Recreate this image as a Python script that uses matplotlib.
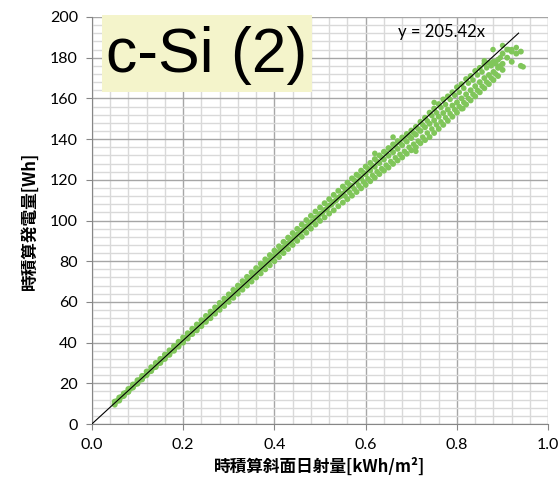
import matplotlib
matplotlib.use("Agg")
import matplotlib.pyplot as plt
from matplotlib.patches import Rectangle
from matplotlib.ticker import MultipleLocator, FormatStrFormatter

# hourly tilted-plane irradiation [kWh/m2] and hourly generated energy [Wh]
irr = [
    0.05, 0.05, 0.05, 0.06, 0.06, 0.06, 0.07, 0.07, 0.07, 0.08, 0.08, 0.08,
    0.09, 0.09, 0.09, 0.10, 0.10, 0.10, 0.11, 0.11, 0.11, 0.12, 0.12, 0.12,
    0.13, 0.13, 0.13, 0.14, 0.14, 0.14, 0.15, 0.15, 0.15, 0.16, 0.16, 0.16,
    0.17, 0.17, 0.17, 0.18, 0.18, 0.18, 0.19, 0.19, 0.19, 0.20, 0.20, 0.20,
    0.21, 0.21, 0.21, 0.22, 0.22, 0.22, 0.23, 0.23, 0.23, 0.24, 0.24, 0.24,
    0.25, 0.25, 0.25, 0.26, 0.26, 0.26, 0.27, 0.27, 0.27, 0.28, 0.28, 0.28,
    0.29, 0.29, 0.29, 0.30, 0.30, 0.30, 0.31, 0.31, 0.31, 0.32, 0.32, 0.32,
    0.33, 0.33, 0.33, 0.34, 0.34, 0.34, 0.35, 0.35, 0.35, 0.36, 0.36, 0.36,
    0.37, 0.37, 0.37, 0.38, 0.38, 0.38, 0.39, 0.39, 0.39, 0.40, 0.40, 0.40,
    0.41, 0.41, 0.41, 0.42, 0.42, 0.42, 0.43, 0.43, 0.43, 0.44, 0.44, 0.44,
    0.45, 0.45, 0.45, 0.46, 0.46, 0.46, 0.47, 0.47, 0.47, 0.48, 0.48, 0.48,
    0.49, 0.49, 0.49, 0.50, 0.50, 0.50, 0.51, 0.51, 0.51, 0.52, 0.52, 0.52,
    0.53, 0.53, 0.53, 0.54, 0.54, 0.54, 0.55, 0.55, 0.55, 0.56, 0.56, 0.56,
    0.57, 0.57, 0.57, 0.58, 0.58, 0.58, 0.59, 0.59, 0.59, 0.60, 0.60, 0.60,
    0.61, 0.61, 0.61, 0.62, 0.62, 0.62, 0.63, 0.63, 0.63, 0.64, 0.64, 0.64,
    0.65, 0.65, 0.65, 0.66, 0.66, 0.66, 0.67, 0.67, 0.67, 0.68, 0.68, 0.68,
    0.69, 0.69, 0.69, 0.70, 0.70, 0.70, 0.71, 0.71, 0.71, 0.72, 0.72, 0.72,
    0.73, 0.73, 0.73, 0.74, 0.74, 0.74, 0.75, 0.75, 0.75, 0.76, 0.76, 0.76,
    0.77, 0.77, 0.77, 0.78, 0.78, 0.78, 0.79, 0.79, 0.79, 0.80, 0.80, 0.80,
    0.81, 0.81, 0.81, 0.82, 0.82, 0.82, 0.83, 0.83, 0.83, 0.84, 0.84, 0.84,
    0.85, 0.85, 0.85, 0.86, 0.86, 0.86, 0.87, 0.87, 0.87, 0.88, 0.88, 0.88,
    0.89, 0.89, 0.89, 0.90, 0.90, 0.90, 0.91, 0.91, 0.92, 0.92, 0.93, 0.94,
    0.94,
]
gen = [
    10.0, 11.0, 9.5, 12.0, 13.0, 11.5, 14.0, 15.0, 13.8, 16.0, 17.2, 15.8,
    18.3, 19.4, 17.9, 20.2, 21.5, 19.8, 22.4, 23.6, 21.9, 24.5, 25.8, 24.0,
    26.4, 27.9, 26.0, 28.6, 30.0, 28.0, 30.5, 32.0, 30.0, 32.6, 34.1, 32.0,
    34.6, 36.2, 34.0, 36.8, 38.3, 36.0, 38.7, 40.4, 38.0, 40.9, 42.5, 40.0,
    43.0, 44.6, 42.0, 45.0, 46.8, 44.2, 47.1, 48.9, 46.0, 49.2, 51.0, 48.1,
    51.3, 53.1, 50.2, 53.4, 55.2, 52.0, 55.4, 57.3, 54.2, 57.5, 59.5, 56.1,
    59.6, 61.6, 58.0, 61.7, 63.7, 60.0, 63.8, 65.9, 62.0, 65.9, 68.0, 64.0,
    68.0, 70.2, 66.0, 70.0, 72.3, 68.0, 72.1, 74.5, 70.0, 74.2, 76.6, 72.0,
    76.3, 78.8, 74.0, 78.4, 80.9, 76.0, 80.5, 83.0, 78.0, 82.6, 85.2, 80.0,
    84.6, 87.3, 82.0, 86.7, 89.5, 84.0, 88.8, 91.6, 86.0, 90.9, 93.8, 88.0,
    93.0, 95.9, 90.0, 95.0, 98.0, 92.0, 97.1, 100.2, 94.0, 99.2, 102.3, 96.0,
    101.3, 104.4, 98.0, 103.2, 106.4, 99.8, 105.2, 108.5, 101.5, 107.3, 110.5, 103.4,
    109.2, 112.6, 105.0, 111.2, 114.6, 107.0, 113.2, 116.7, 108.8, 115.1, 118.6, 110.5,
    117.0, 120.7, 112.2, 119.0, 122.5, 114.0, 120.8, 124.5, 115.8, 122.7, 126.5, 117.5,
    124.6, 128.3, 119.3, 126.4, 130.2, 121.0, 128.2, 132.0, 122.8, 130.0, 133.8, 124.5,
    131.8, 135.6, 126.0, 133.5, 137.4, 127.8, 135.2, 139.0, 129.5, 137.0, 140.8, 131.0,
    138.8, 142.5, 132.8, 140.5, 144.2, 134.5, 142.2, 146.0, 136.0, 144.0, 148.5, 138.0,
    145.8, 150.5, 139.5, 147.5, 153.0, 141.0, 149.2, 155.0, 143.0, 151.0, 157.2, 145.0,
    152.8, 159.5, 147.0, 154.5, 161.0, 149.0, 156.5, 163.0, 151.0, 158.0, 165.5, 153.0,
    160.0, 167.0, 155.0, 162.0, 169.5, 157.0, 164.0, 171.0, 159.0, 166.0, 173.5, 161.0,
    168.0, 175.0, 163.0, 170.0, 177.0, 165.0, 171.5, 177.5, 167.0, 173.0, 178.0, 169.0,
    175.0, 179.0, 171.0, 177.0, 182.0, 174.0, 180.0, 184.0, 183.0, 178.0, 182.0, 176.0,
    183.0,
]

# extra points between the 0.01 steps
irr_mid = [
    0.055, 0.065, 0.075, 0.085, 0.095, 0.105, 0.115, 0.125, 0.135, 0.145,
    0.155, 0.165, 0.175, 0.185, 0.195, 0.205, 0.215, 0.225, 0.235, 0.245,
    0.255, 0.265, 0.275, 0.285, 0.295, 0.305, 0.315, 0.325, 0.335, 0.345,
    0.355, 0.365, 0.375, 0.385, 0.395, 0.405, 0.415, 0.425, 0.435, 0.445,
    0.455, 0.465, 0.475, 0.485, 0.495, 0.505, 0.515, 0.525, 0.535, 0.545,
]
gen_mid = [
    11.3, 13.4, 15.4, 17.5, 19.5, 21.6, 23.6, 25.7, 27.7, 29.8,
    31.8, 33.9, 36.0, 38.0, 40.1, 42.1, 44.2, 46.2, 48.3, 50.3,
    52.4, 54.4, 56.5, 58.5, 60.6, 62.7, 64.7, 66.8, 68.8, 70.9,
    72.9, 75.0, 77.0, 79.1, 81.1, 83.2, 85.2, 87.3, 89.4, 91.4,
    93.5, 95.5, 97.6, 99.6, 101.7, 103.7, 105.8, 107.8, 109.9, 111.9,
]

irr_hi = [
    0.555, 0.555, 0.565, 0.565, 0.575, 0.575, 0.585, 0.585, 0.595, 0.595,
    0.605, 0.605, 0.615, 0.615, 0.625, 0.625, 0.635, 0.635, 0.645, 0.645,
    0.655, 0.655, 0.665, 0.665, 0.675, 0.675, 0.685, 0.685, 0.695, 0.695,
    0.705, 0.705, 0.715, 0.715, 0.725, 0.725, 0.735, 0.735, 0.745, 0.745,
    0.755, 0.755, 0.765, 0.765, 0.775, 0.775, 0.785, 0.785, 0.795, 0.795,
    0.805, 0.805, 0.815, 0.815, 0.825, 0.825, 0.835, 0.835, 0.845, 0.845,
    0.855, 0.855, 0.865, 0.865, 0.875, 0.875, 0.885, 0.885, 0.895, 0.895,
    0.62, 0.66, 0.75, 0.813, 0.71, 0.86, 0.90, 0.93, 0.945, 0.92, 0.913, 0.879,
]
gen_hi = [
    112.0, 115.5, 113.8, 117.5, 115.5, 119.8, 117.2, 121.8, 119.0, 123.5,
    120.5, 125.5, 122.2, 127.0, 124.0, 129.0, 125.5, 131.0, 127.2, 133.0,
    129.0, 134.8, 130.8, 136.5, 132.5, 138.2, 134.0, 140.0, 136.0, 141.5,
    137.5, 143.0, 139.0, 145.0, 141.0, 147.0, 143.0, 149.0, 145.0, 151.5,
    147.0, 153.0, 148.5, 155.5, 150.5, 157.0, 152.5, 159.5, 154.5, 161.5,
    156.0, 163.0, 158.0, 165.0, 160.0, 167.5, 162.0, 169.0, 164.0, 171.5,
    166.0, 173.0, 168.0, 175.0, 170.0, 176.0, 172.0, 177.0, 176.0, 180.0,
    133.0, 141.0, 158.0, 155.0, 134.0, 178.5, 186.0, 185.0, 175.5, 184.0, 184.0, 184.0,
]

slope = 205.42
fit_x = [0.0, 0.935]

green = "#80C65A"

fig = plt.figure(figsize=(5.6, 5.0), dpi=100)
ax = fig.add_axes([0.164, 0.152, 0.815, 0.814])

ax.scatter(irr, gen, s=18, color=green, edgecolors="none", zorder=3)
ax.scatter(irr_mid, gen_mid, s=18, color=green, edgecolors="none", zorder=3)
ax.scatter(irr_hi, gen_hi, s=16, color=green, edgecolors="none", zorder=3)
ax.plot(fit_x, [slope * v for v in fit_x], color="black", lw=0.8, zorder=4)

ax.set_xlim(0, 1.0)
ax.set_ylim(0, 200)
ax.xaxis.set_major_locator(MultipleLocator(0.2))
ax.xaxis.set_minor_locator(MultipleLocator(0.04))
ax.xaxis.set_major_formatter(FormatStrFormatter("%.1f"))
ax.yaxis.set_major_locator(MultipleLocator(20))
ax.yaxis.set_minor_locator(MultipleLocator(4))
ax.grid(which="minor", color="#D9D9D9", lw=1.0)
ax.grid(which="major", color="#A6A6A6", lw=1.0)
ax.set_axisbelow(True)
ax.tick_params(which="minor", length=0)
ax.tick_params(which="major", length=4, color="#868686", labelsize=11.5, pad=6)
for lab in ax.get_xticklabels() + ax.get_yticklabels():
    lab.set_family("Lato")
for s in ["top", "right"]:
    ax.spines[s].set_visible(False)
for s in ["left", "bottom"]:
    ax.spines[s].set_color("#868686")

ax.text(0.67, 192.5, "y = 205.42x", family="Lato", fontsize=12, va="center", ha="left", zorder=5)

jp = ["Noto Sans CJK JP", "DejaVu Sans"]
ax.set_xlabel("時積算斜面日射量[kWh/m²]", family=jp, fontweight="bold", fontsize=12, labelpad=4)
ax.set_ylabel("時積算発電量[Wh]", family=jp, fontweight="bold", fontsize=12, labelpad=8)

ax.add_patch(Rectangle((0.022, 0.816), 0.46, 0.189, transform=ax.transAxes,
                       facecolor="#F4F4CB", edgecolor="none", clip_on=False, zorder=5))
ax.text(0.252, 0.905, "c-Si (2)", transform=ax.transAxes, family="Liberation Sans",
        fontsize=45, ha="center", va="center", zorder=6)

fig.savefig("out.png", dpi=100)
